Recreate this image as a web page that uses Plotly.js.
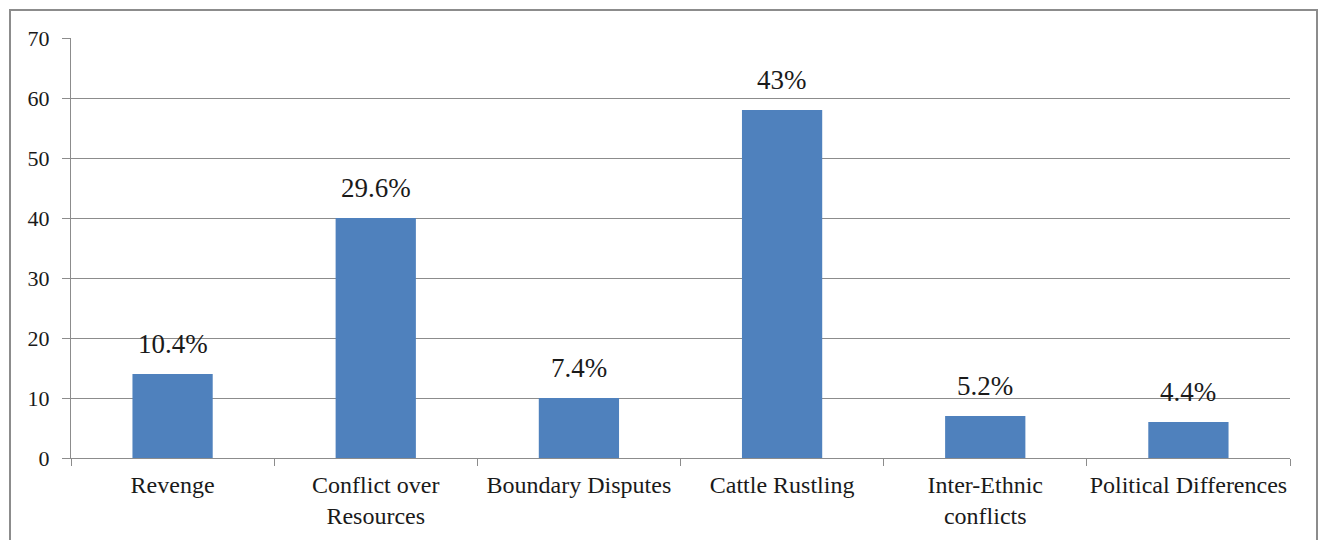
<!DOCTYPE html>
<html>
<head>
<meta charset="utf-8">
<script src="https://cdn.plot.ly/plotly-3.0.1.min.js"></script>
<style>
  html, body { margin: 0; padding: 0; background: #fff; width: 1325px; height: 540px; overflow: hidden; }
  #chart { position: absolute; left: 0; top: 0; width: 1325px; height: 540px; }
  #frame { position: absolute; left: 9px; top: 9px; width: 1305px; height: 560px; border: 2px solid #8c8c8c; pointer-events: none; }
</style>
</head>
<body>
<div id="chart"></div>
<div id="frame"></div>
<script>
const categories = ["Revenge", "Conflict over<br>Resources", "Boundary Disputes", "Cattle Rustling", "Inter-Ethnic<br>conflicts", "Political Differences"];
const values = [14, 40, 10, 58, 7, 6];
const percentLabels = ["10.4%", "29.6%", "7.4%", "43%", "5.2%", "4.4%"];
const yTicks = [0, 10, 20, 30, 40, 50, 60, 70];

const SERIF = "'Times New Roman', 'Liberation Serif', Times, serif";

const trace = {
  type: "bar",
  x: categories,
  y: values,
  marker: { color: "#4f81bd", line: { width: 0 } },
  width: 0.395,
  hoverinfo: "none"
};

const annotations = categories.map((c, i) => ({
  x: c,
  y: values[i],
  xref: "x",
  yref: "y",
  text: percentLabels[i],
  showarrow: false,
  yanchor: "bottom",
  yshift: 13,
  font: { family: SERIF, size: 27, color: "#1a1a1a" }
}));

const layout = {
  width: 1325, height: 540,
  margin: { l: 71, r: 35, t: 38, b: 82 },
  paper_bgcolor: "#ffffff",
  plot_bgcolor: "#ffffff",
  showlegend: false,
  font: { family: SERIF, size: 22, color: "#1a1a1a" },
  annotations: annotations,
  xaxis: {
    type: "category",
    tickson: "boundaries",
    tickangle: 0,
    ticks: "outside",
    ticklen: 7,
    tickcolor: "#8c8c8c",
    showline: true,
    linecolor: "#8c8c8c",
    linewidth: 1,
    showgrid: false,
    tickfont: { family: SERIF, size: 24, color: "#1a1a1a" },
    ticklabelstandoff: 5,
    fixedrange: true
  },
  yaxis: {
    range: [0, 70],
    tickvals: yTicks,
    ticktext: yTicks.map(String),
    ticks: "outside",
    ticklen: 8,
    tickcolor: "#8c8c8c",
    showline: true,
    linecolor: "#8c8c8c",
    linewidth: 1,
    showgrid: true,
    gridcolor: "#8c8c8c",
    gridwidth: 1,
    zeroline: false,
    tickfont: { family: SERIF, size: 22, color: "#1a1a1a" },
    ticklabelstandoff: 8,
    fixedrange: true
  }
};

Plotly.newPlot("chart", [trace], layout, { displayModeBar: false, staticPlot: true });
</script>
</body>
</html>
